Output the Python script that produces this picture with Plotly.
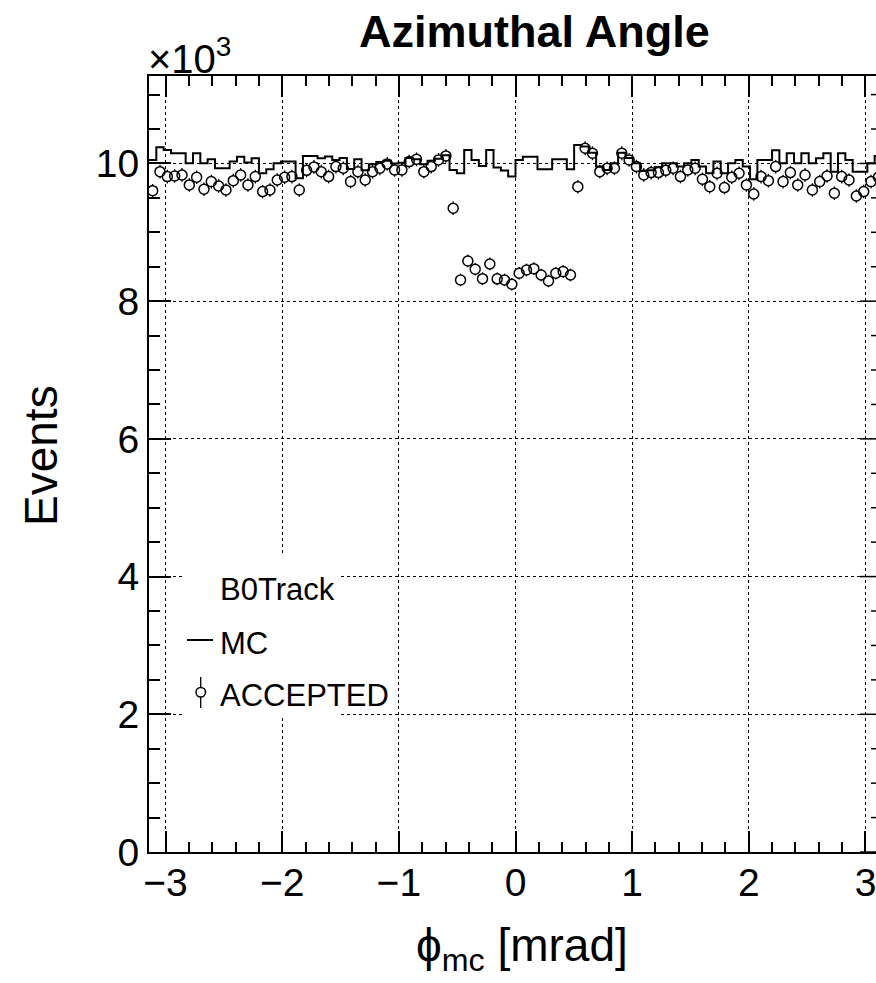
import numpy as np
import plotly.graph_objects as go

# ---------------- data ----------------
n_bins = 100
phi_min, phi_max = -np.pi, np.pi

mc_counts = [
    10050, 10235, 10196, 10148, 10148, 10002, 10148, 10002, 10060, 9930,
    9930, 10027, 10099, 10012, 10075, 9857, 9915, 10002, 10027, 10027,
    9785, 10109, 10109, 10075, 10100, 10050, 10080, 9920, 10060, 9900,
    9990, 10020, 10040, 10000, 10010, 10080, 10060, 9990, 10040, 10070,
    10120, 9906, 9857, 10196, 10051, 9964, 10196, 9940, 9896, 9809,
    10051, 10099, 10099, 9915, 9915, 10060, 10060, 9915, 10269, 10245,
    10157, 9954, 9906, 10002, 10157, 10080, 10002, 9890, 9900, 9950,
    10002, 10002, 9954, 10002, 10051, 9954, 9857, 10027, 9857, 10002,
    10051, 9954, 9770, 10051, 10051, 10191, 10002, 10148, 10002, 10148,
    10002, 10075, 10148, 9881, 10148, 10051, 9881, 9881, 10002, 10109,
]

accepted_counts = [
    9605, 9881, 9809, 9818, 9833, 9688, 9799, 9625, 9736, 9673,
    9615, 9750, 9833, 9688, 9809, 9591, 9615, 9760, 9799, 9809,
    9615, 9900, 9950, 9880, 9809, 9954, 9930, 9736, 9881, 9760,
    9881, 9930, 9993, 9906, 9906, 10027, 10060, 9881, 9954, 10051,
    10109, 9349, 8308, 8584, 8463, 8327, 8540, 8324, 8308, 8245,
    8405, 8453, 8472, 8380, 8293, 8405, 8429, 8380, 9663, 10220,
    10148, 9881, 9930, 9930, 10148, 10051, 9954, 9833, 9867, 9867,
    9900, 9930, 9809, 9906, 9930, 9770, 9663, 9857, 9649, 9799,
    9857, 9688, 9557, 9809, 9750, 9954, 9736, 9867, 9688, 9833,
    9615, 9736, 9818, 9567, 9809, 9760, 9528, 9591, 9736, 9800,
]

x_tick_vals = [-3, -2, -1, 0, 1, 2, 3]
y_tick_vals = [0, 2000, 4000, 6000, 8000, 10000]
y_tick_text = ["0", "2", "4", "6", "8", "10"]
y_max = 11270

title_text = "Azimuthal Angle"
x_title = "ϕ<sub>mc</sub> [mrad]"
y_title = "Events"
legend_header = "B0Track"
legend_mc = "MC"
legend_acc = "ACCEPTED"

# ---------------- derived ----------------
edges = np.linspace(phi_min, phi_max, n_bins + 1)
centers = 0.5 * (edges[:-1] + edges[1:])
mc_step_y = list(mc_counts) + [mc_counts[-1]]
acc = np.array(accepted_counts, dtype=float)
acc_err = np.sqrt(acc)

# ---------------- layout geometry (pixels) ----------------
W, H = 876, 983
L, R, T, B = 149, 876, 76, 852
FULL_R = 882                      # where x = +pi would sit (outside window)
px_per_unit = (FULL_R - L) / (phi_max - phi_min)
x_right = phi_min + (R - L) / px_per_unit

def pxx(x):
    return (x - L) / (R - L)

def pyy(y):
    return (B - y) / (B - T)

FONT = "Liberation Sans, Arial, Helvetica, sans-serif"

fig = go.Figure()

# error bars (drawn first, hidden inside markers by white fill)
fig.add_trace(go.Scatter(
    x=centers, y=acc, mode="markers",
    marker=dict(size=1, color="rgba(0,0,0,0)"),
    error_y=dict(type="data", array=acc_err, thickness=1.3, width=0, color="black"),
    showlegend=False, hoverinfo="skip",
))
# white fill of markers
fig.add_trace(go.Scatter(
    x=centers, y=acc, mode="markers",
    marker=dict(symbol="circle", size=10, color="white", line=dict(width=0)),
    showlegend=False, hoverinfo="skip",
))
# MC histogram outline
fig.add_trace(go.Scatter(
    x=edges, y=mc_step_y, mode="lines",
    line=dict(shape="hv", color="black", width=2),
    name=legend_mc, showlegend=False,
))
# open markers outline
fig.add_trace(go.Scatter(
    x=centers, y=acc, mode="markers",
    marker=dict(symbol="circle-open", size=10, color="black", line=dict(width=1.5, color="black")),
    name=legend_acc, showlegend=False,
))

shapes = []
# right-side y ticks (frame at x=+pi is outside the visible window; clipped)
for v in range(0, y_max, 500):
    ln = 22 if v % 2000 == 0 else 11
    shapes.append(dict(type="line", xref="x", yref="y",
                       x0=phi_max - ln / px_per_unit, x1=phi_max, y0=v, y1=v,
                       line=dict(color="black", width=1.5), layer="above"))

# legend box
shapes.append(dict(type="rect", xref="paper", yref="paper",
                   x0=pxx(182), x1=pxx(340), y0=pyy(716), y1=pyy(555),
                   fillcolor="white", line=dict(width=0), layer="above"))
# MC legend line
shapes.append(dict(type="line", xref="paper", yref="paper",
                   x0=pxx(187), x1=pxx(213), y0=pyy(640), y1=pyy(640),
                   line=dict(color="black", width=2), layer="above"))
# ACCEPTED legend marker with error bar
shapes.append(dict(type="line", xref="paper", yref="paper",
                   x0=pxx(200.7), x1=pxx(200.7), y0=pyy(677), y1=pyy(708),
                   line=dict(color="black", width=1.3), layer="above"))
shapes.append(dict(type="circle", xref="paper", yref="paper",
                   x0=pxx(196), x1=pxx(205.5), y0=pyy(697), y1=pyy(687.5),
                   fillcolor="white", line=dict(color="black", width=1.5), layer="above"))

annotations = [
    dict(text="<b>" + title_text + "</b>", x=pxx(534), y=pyy(32), xref="paper", yref="paper",
         xanchor="center", yanchor="middle", showarrow=False,
         font=dict(family=FONT, size=45, color="black")),
    dict(text="×10<sup>3</sup>", x=pxx(146), y=pyy(56), xref="paper", yref="paper",
         xanchor="left", yanchor="middle", showarrow=False,
         font=dict(family=FONT, size=40, color="black")),
    dict(text=y_title, x=pxx(41), y=pyy(456), xref="paper", yref="paper",
         xanchor="center", yanchor="middle", textangle=-90, showarrow=False,
         font=dict(family=FONT, size=46, color="black")),
    dict(text=x_title, x=pxx(522), y=pyy(948), xref="paper", yref="paper",
         xanchor="center", yanchor="middle", showarrow=False,
         font=dict(family=FONT, size=46, color="black")),
    dict(text=legend_header, x=pxx(218), y=pyy(589), xref="paper", yref="paper",
         xanchor="left", yanchor="middle", showarrow=False,
         font=dict(family=FONT, size=31, color="black")),
    dict(text=legend_mc, x=pxx(218), y=pyy(643), xref="paper", yref="paper",
         xanchor="left", yanchor="middle", showarrow=False,
         font=dict(family=FONT, size=31, color="black")),
    dict(text=legend_acc, x=pxx(218), y=pyy(695), xref="paper", yref="paper",
         xanchor="left", yanchor="middle", showarrow=False,
         font=dict(family=FONT, size=31, color="black")),
]

fig.update_layout(
    width=W, height=H,
    margin=dict(l=L, r=W - R, t=T, b=H - B, pad=0),
    paper_bgcolor="white", plot_bgcolor="white",
    showlegend=False,
    font=dict(family=FONT, color="black"),
    shapes=shapes, annotations=annotations,
)
fig.update_xaxes(
    range=[phi_min, x_right], tickvals=x_tick_vals,
    ticks="inside", ticklen=21, tickwidth=1.5, tickcolor="black",
    minor=dict(dtick=0.2, tick0=0, ticks="inside", ticklen=10, tickwidth=1.5,
               tickcolor="black", showgrid=False),
    showline=True, linecolor="black", linewidth=2, mirror="ticks",
    showgrid=True, gridcolor="black", griddash="dot", gridwidth=1,
    zeroline=False, tickfont=dict(family=FONT, size=39, color="black"),
    ticklabeloverflow="allow", ticklabelstandoff=-5,
)
fig.update_yaxes(
    range=[0, y_max], tickvals=y_tick_vals, ticktext=y_tick_text,
    ticks="inside", ticklen=22, tickwidth=1.5, tickcolor="black",
    minor=dict(dtick=500, tick0=0, ticks="inside", ticklen=11, tickwidth=1.5,
               tickcolor="black", showgrid=False),
    showline=True, linecolor="black", linewidth=2, mirror=False,
    showgrid=True, gridcolor="black", griddash="dot", gridwidth=1,
    zeroline=False, tickfont=dict(family=FONT, size=39, color="black"),
    ticklabeloverflow="allow",
)

fig.write_html("out.html")
